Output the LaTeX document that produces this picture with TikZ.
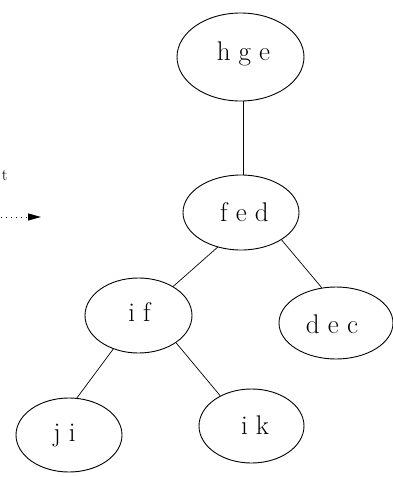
\documentclass[tikz,border=0pt]{standalone}
\usepackage{fontspec}
\setmainfont{Latin Modern Roman}
\usetikzlibrary{shapes.geometric,arrows.meta}
\begin{document}
\begin{tikzpicture}[x=1pt,y=-1pt,
  tnode/.style={draw,ellipse,line width=0.9pt,inner sep=0pt,text depth=0pt,
    font=\fontsize{27}{32}\selectfont},
  edge/.style={line width=0.7pt},
  legend/.style={font=\fontsize{16.5}{20}\selectfont}]
\useasboundingbox (0,0) rectangle (393,477);
\node[tnode,minimum width=127pt,minimum height=88pt,text height=6pt]  (hge) at (240.5,57) {\kern6pt h g e};
\node[tnode,minimum width=116pt,minimum height=75pt,text height=18pt] (fed) at (241,212.5) {\kern7pt f e d};
\node[tnode,minimum width=107pt,minimum height=75pt,text height=12pt] (if)  at (138.5,315.5) {\kern2pt i f};
\node[tnode,minimum width=114pt,minimum height=72pt,text height=20pt] (dec) at (336,323) {d e c\kern8pt};
\node[tnode,minimum width=106pt,minimum height=74pt,text height=12pt] (ji)  at (69,435) {j i\kern9pt};
\node[tnode,minimum width=105pt,minimum height=74pt,text height=16pt] (ik)  at (251.5,426) {\kern7pt i k};
\draw[edge] (hge.south) ++(2.5pt,0) coordinate (hs) -- (fed.north -| hs);
\draw[edge] (fed.236) -- (if.40);
\draw[edge] (fed.326) -- (dec.112);
\draw[edge] (if.233) -- (ji.78);
\draw[edge] (if.324) -- (ik.136);
\node[legend,anchor=base east,inner sep=0pt] (tlab) at (8,180) {t};
\coordinate (la) at (1,217);
\coordinate (lb) at (41,217);
\draw[line width=0.9pt,dash pattern=on 1pt off 4pt,-{Triangle[length=13pt,width=7pt]}] (la) -- (lb);
\end{tikzpicture}
\end{document}
